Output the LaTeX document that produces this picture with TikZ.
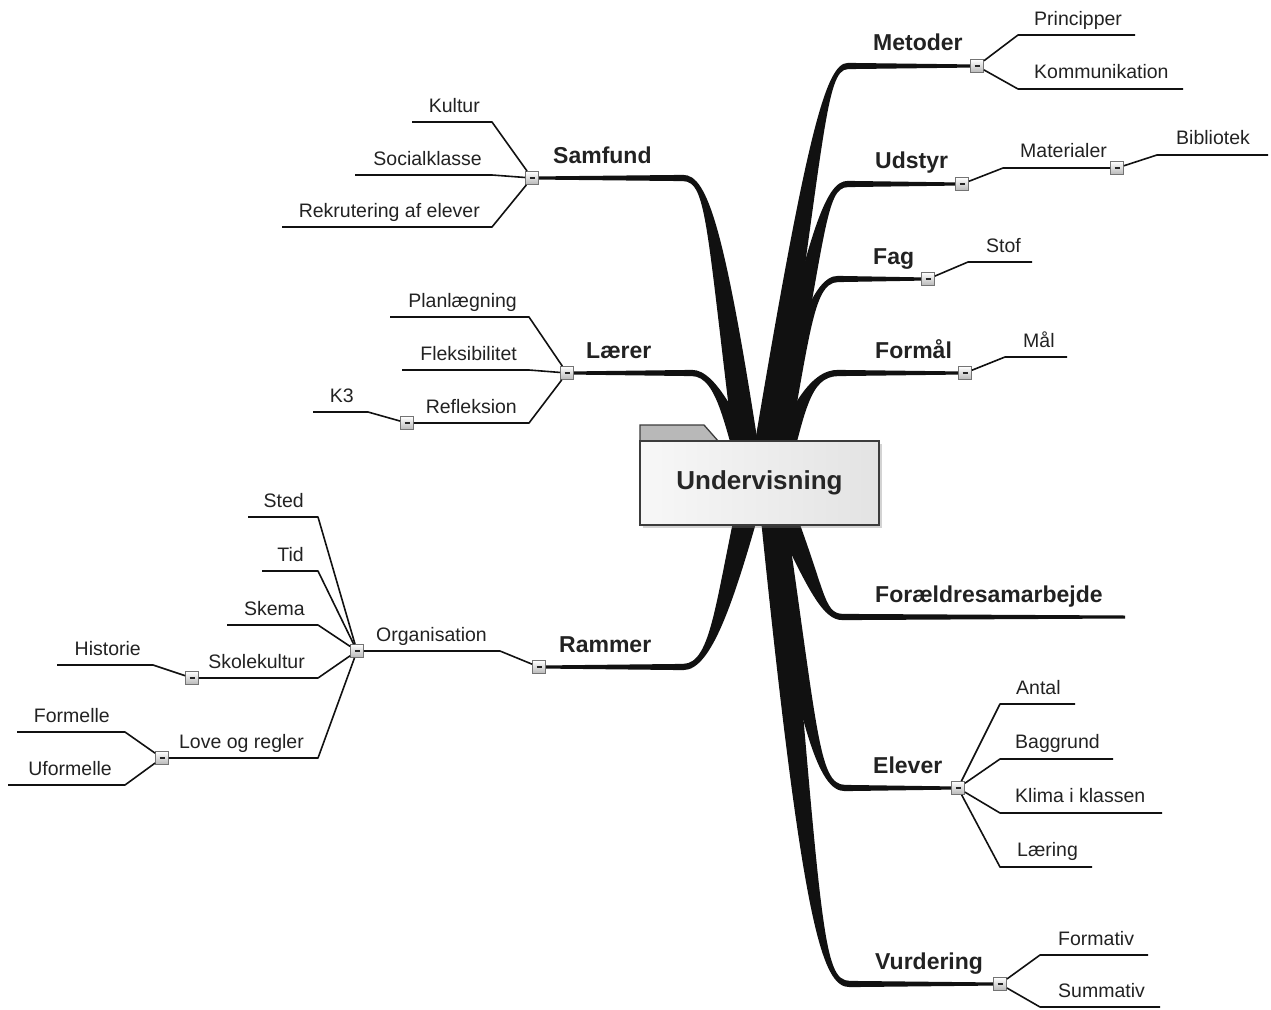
\documentclass[tikz,border=0pt]{standalone}
\usepackage{fontspec}
\setmainfont{Liberation Sans}
\usetikzlibrary{shadows}
\definecolor{ink}{HTML}{111111}
\definecolor{txt}{HTML}{222222}
\definecolor{boxedge}{HTML}{3C3C3C}
\newcommand\tbranch[9]{%
 \pgfmathsetmacro\brsgn{sign(#7-#1)*sign(#8-#2)}%
 \fill[ink] ({#1-13},{#2}) .. controls ({#3-10},{#4}) and ({#5},{#6+\brsgn*3.6}) .. ({#7},{#8+\brsgn*3.1})
   -- ({#9},{#8+\brsgn*1.5}) -- ({#9},{#8-\brsgn*1.5}) -- ({#7},{#8-\brsgn*3.1})
   .. controls ({#5},{#6-\brsgn*3.6}) and ({#3+10},{#4}) .. ({#1+13},{#2}) -- cycle;}
\begin{document}
\begin{tikzpicture}[x=1pt,y=-1pt,
  thinln/.style={draw=ink,line width=1.6pt,line join=round},
  cbox/.style={draw=black!55,line width=0.8pt,top color=white,bottom color=black!28,
    minimum size=13pt,inner sep=0pt,
    path picture={\draw[line width=1.3pt,black!85]
      ([xshift=-2.5pt]path picture bounding box.center) -- ([xshift=2.5pt]path picture bounding box.center);}},
  lblW/.style={anchor=base west,inner sep=0pt,text=txt,font=\fontsize{19.5}{22}\selectfont},
  lblE/.style={anchor=base east,inner sep=0pt,text=txt,font=\fontsize{19.5}{22}\selectfont},
  mlbl/.style={anchor=base west,inner sep=0pt,text=txt,font=\fontsize{23}{26}\selectfont\bfseries},
  mainbox/.style={draw=boxedge,line width=1.5pt,left color=black!3,right color=black!11,
    minimum width=239pt,minimum height=84pt,inner sep=0pt,text=black!85,
    font=\fontsize{26}{30}\selectfont\bfseries,
    drop shadow={shadow xshift=3pt,shadow yshift=-3pt,opacity=0.35}}
]
\useasboundingbox (0,0) rectangle (1271,1009);

% ---------- thick main branches ----------
\tbranch{760}{490}{815}{140}{825}{66}{848}{66}{977}
\tbranch{765}{490}{817}{230}{825}{184}{848}{184}{962}
\tbranch{768}{490}{800}{340}{812}{279}{838}{279}{928}
\tbranch{772}{490}{795}{410}{810}{373}{838}{373}{965}
\tbranch{770}{480}{817}{590}{822}{617}{843}{617}{1125}
\tbranch{768}{480}{808}{730}{818}{788}{845}{788}{958}
\tbranch{770}{480}{812}{930}{822}{984}{850}{984}{1000}
\tbranch{752}{490}{716}{230}{708}{178}{683}{178}{532}
\tbranch{757}{490}{735}{430}{718}{373}{692}{373}{567}
\tbranch{755}{480}{725}{600}{712}{667}{683}{667}{539}

% ---------- central topic ----------
\filldraw[fill=black!28,draw=boxedge,line width=1.3pt] (640,442) -- (640,425) -- (704,425) -- (719,442) -- cycle;
\node[mainbox] (ctr) at (759.5,483) {Undervisning};

% ---------- collapse boxes ----------
\node[cbox] (bMet) at (977,66) {};
\node[cbox] (bUds) at (962,184) {};
\node[cbox] (bMat) at (1117,168) {};
\node[cbox] (bFag) at (928,279) {};
\node[cbox] (bFor) at (965,373) {};
\node[cbox] (bEle) at (958,788) {};
\node[cbox] (bVur) at (1000,984) {};
\node[cbox] (bSam) at (532,178) {};
\node[cbox] (bLae) at (567,373) {};
\node[cbox] (bRef) at (407,423) {};
\node[cbox] (bRam) at (539,667) {};
\node[cbox] (bOrg) at (357,651) {};
\node[cbox] (bSko) at (192,678) {};
\node[cbox] (bLov) at (162,758) {};

% ---------- coordinates of sub-branches ----------
\coordinate (pri1) at (1018,35);  \coordinate (pri2) at (1135,35);
\coordinate (kom1) at (1018,89);  \coordinate (kom2) at (1183,89);
\coordinate (mat1) at (1003,168);
\coordinate (bib1) at (1157,155); \coordinate (bib2) at (1268,155);
\coordinate (sto1) at (968,262);  \coordinate (sto2) at (1032,262);
\coordinate (mal1) at (1005,357); \coordinate (mal2) at (1067,357);
\coordinate (ant1) at (1000,704); \coordinate (ant2) at (1075,704);
\coordinate (bag1) at (1000,759); \coordinate (bag2) at (1113,759);
\coordinate (kli1) at (1000,813); \coordinate (kli2) at (1162,813);
\coordinate (lae1) at (1000,867); \coordinate (lae2) at (1092,867);
\coordinate (fmt1) at (1040,955); \coordinate (fmt2) at (1148,955);
\coordinate (sum1) at (1040,1007);\coordinate (sum2) at (1160,1007);
\coordinate (kul1) at (492,122);  \coordinate (kul2) at (412,122);
\coordinate (soc1) at (492,175);  \coordinate (soc2) at (355,175);
\coordinate (rek1) at (492,227);  \coordinate (rek2) at (282,227);
\coordinate (pla1) at (529,317);  \coordinate (pla2) at (390,317);
\coordinate (fle1) at (529,370);  \coordinate (fle2) at (402,370);
\coordinate (ref1) at (529,423);
\coordinate (kk1) at (368,412);   \coordinate (kk2) at (313,412);
\coordinate (org1) at (500,651);
\coordinate (ste1) at (318,517);  \coordinate (ste2) at (248,517);
\coordinate (tid1) at (318,571);  \coordinate (tid2) at (262,571);
\coordinate (ske1) at (318,625);  \coordinate (ske2) at (227,625);
\coordinate (sko1) at (318,678);
\coordinate (his1) at (153,665);  \coordinate (his2) at (57,665);
\coordinate (lov1) at (318,758);
\coordinate (frm1) at (125,732);  \coordinate (frm2) at (17,732);
\coordinate (ufo1) at (125,785);  \coordinate (ufo2) at (8,785);

% ---------- thin connectors ----------
\draw[thinln] (bMet) -- (pri1) -- (pri2);
\draw[thinln] (bMet) -- (kom1) -- (kom2);
\draw[thinln] (bUds) -- (mat1) -- (bMat);
\draw[thinln] (bMat) -- (bib1) -- (bib2);
\draw[thinln] (bFag) -- (sto1) -- (sto2);
\draw[thinln] (bFor) -- (mal1) -- (mal2);
\draw[thinln] (bEle) -- (ant1) -- (ant2);
\draw[thinln] (bEle) -- (bag1) -- (bag2);
\draw[thinln] (bEle) -- (kli1) -- (kli2);
\draw[thinln] (bEle) -- (lae1) -- (lae2);
\draw[thinln] (bVur) -- (fmt1) -- (fmt2);
\draw[thinln] (bVur) -- (sum1) -- (sum2);
\draw[thinln] (bSam) -- (kul1) -- (kul2);
\draw[thinln] (bSam) -- (soc1) -- (soc2);
\draw[thinln] (bSam) -- (rek1) -- (rek2);
\draw[thinln] (bLae) -- (pla1) -- (pla2);
\draw[thinln] (bLae) -- (fle1) -- (fle2);
\draw[thinln] (bLae) -- (ref1) -- (bRef);
\draw[thinln] (bRef) -- (kk1) -- (kk2);
\draw[thinln] (bRam) -- (org1) -- (bOrg);
\draw[thinln] (bOrg) -- (ste1) -- (ste2);
\draw[thinln] (bOrg) -- (tid1) -- (tid2);
\draw[thinln] (bOrg) -- (ske1) -- (ske2);
\draw[thinln] (bOrg) -- (sko1) -- (bSko);
\draw[thinln] (bSko) -- (his1) -- (his2);
\draw[thinln] (bOrg) -- (lov1) -- (bLov);
\draw[thinln] (bLov) -- (frm1) -- (frm2);
\draw[thinln] (bLov) -- (ufo1) -- (ufo2);

% ---------- main topic labels ----------
\node[mlbl] (tMet) at (873,50) {Metoder};
\node[mlbl] (tUds) at (875,168) {Udstyr};
\node[mlbl] (tFag) at (873,264) {Fag};
\node[mlbl] (tFor) at (875,358) {Formål};
\node[mlbl] (tFae) at (875,602) {Forældresamarbejde};
\node[mlbl] (tEle) at (873,773) {Elever};
\node[mlbl] (tVur) at (875,969) {Vurdering};
\node[mlbl] (tSam) at (553,163) {Samfund};
\node[mlbl] (tLae) at (586,358) {Lærer};
\node[mlbl] (tRam) at (559,652) {Rammer};

% ---------- sub-topic labels ----------
\node[lblW] (lPri) at (1034,25) {Principper};
\node[lblW] (lKom) at (1034,78) {Kommunikation};
\node[lblW] (lMat) at (1020,157) {Materialer};
\node[lblW] (lBib) at (1176,144) {Bibliotek};
\node[lblW] (lSto) at (986,252) {Stof};
\node[lblW] (lMal) at (1023,347) {Mål};
\node[lblW] (lAnt) at (1016,694) {Antal};
\node[lblW] (lBag) at (1015,748) {Baggrund};
\node[lblW] (lKli) at (1015,802) {Klima i klassen};
\node[lblW] (lLae) at (1017,856) {Læring};
\node[lblW] (lFmt) at (1058,945) {Formativ};
\node[lblW] (lSum) at (1058,997) {Summativ};
\node[lblE] (lKul) at (480,112) {Kultur};
\node[lblE] (lSoc) at (482,165) {Socialklasse};
\node[lblE] (lRek) at (480,217) {Rekrutering af elever};
\node[lblE] (lPla) at (517,307) {Planlægning};
\node[lblE] (lFle) at (517,360) {Fleksibilitet};
\node[lblE] (lRef) at (517,413) {Refleksion};
\node[lblE] (lK3) at (354,402) {K3};
\node[lblE] (lOrg) at (487,641) {Organisation};
\node[lblE] (lSte) at (304,507) {Sted};
\node[lblE] (lTid) at (304,561) {Tid};
\node[lblE] (lSke) at (305,615) {Skema};
\node[lblE] (lSko) at (305,668) {Skolekultur};
\node[lblE] (lHis) at (141,655) {Historie};
\node[lblE] (lLov) at (304,748) {Love og regler};
\node[lblE] (lFrm) at (110,722) {Formelle};
\node[lblE] (lUfo) at (112,775) {Uformelle};
\end{tikzpicture}
\end{document}
